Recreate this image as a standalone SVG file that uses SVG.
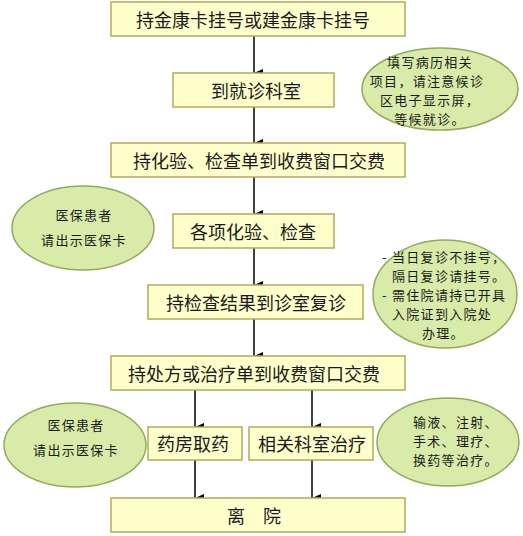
<svg xmlns="http://www.w3.org/2000/svg" width="523" height="536" viewBox="0 0 523 536">
<style>
.box{fill:#ffffcc;stroke:#b3aa5c;stroke-width:1.5}
.ell{fill:#d9eba8;stroke:#93a95c;stroke-width:1.5}
.bt{font-family:"Noto Sans CJK SC","Noto Sans CJK JP",sans-serif;font-size:18px;fill:#1a1a1a;text-anchor:middle}
.et{font-family:"Noto Sans CJK SC","Noto Sans CJK JP",sans-serif;font-size:13px;letter-spacing:1.3px;fill:#1a1a1a}
.m{text-anchor:middle}
.conn line{stroke:#000;stroke-width:1.5}
</style>
<defs>
<marker id="ah" markerWidth="8" markerHeight="9" refX="4" refY="9" orient="auto-start-reverse" markerUnits="userSpaceOnUse" viewBox="0 0 8 9">
<path d="M0,0 L8,0 L4,9 Z" fill="#000"/>
</marker>
</defs>
<rect width="523" height="536" fill="#fff"/>
<g class="conn">
<line x1="254" y1="36" x2="254" y2="73" marker-end="url(#ah)"/>
<line x1="254" y1="107" x2="254" y2="143" marker-end="url(#ah)"/>
<line x1="254" y1="177" x2="254" y2="214" marker-end="url(#ah)"/>
<line x1="254" y1="248" x2="254" y2="285" marker-end="url(#ah)"/>
<line x1="254" y1="319" x2="254" y2="356" marker-end="url(#ah)"/>
<line x1="195" y1="390" x2="195" y2="427" marker-end="url(#ah)"/>
<line x1="312" y1="390" x2="312" y2="427" marker-end="url(#ah)"/>
<line x1="195" y1="460" x2="195" y2="498" marker-end="url(#ah)"/>
<line x1="312" y1="460" x2="312" y2="498" marker-end="url(#ah)"/>
</g>
<g id="n1"><rect class="box" x="111" y="2" width="294" height="34"/><text class="bt" x="253" y="27">持金康卡挂号或建金康卡挂号</text></g>
<g id="n2"><rect class="box" x="173" y="73" width="161" height="34"/><text class="bt" x="256" y="98">到就诊科室</text></g>
<g id="n3"><rect class="box" x="111" y="143" width="294" height="34"/><text class="bt" x="259" y="168">持化验、检查单到收费窗口交费</text></g>
<g id="n4"><rect class="box" x="173" y="214" width="161" height="34"/><text class="bt" x="253" y="239">各项化验、检查</text></g>
<g id="n5"><rect class="box" x="148" y="285" width="215" height="34"/><text class="bt" x="256" y="310">持检查结果到诊室复诊</text></g>
<g id="n6"><rect class="box" x="111" y="356" width="294" height="34"/><text class="bt" x="254" y="381">持处方或治疗单到收费窗口交费</text></g>
<g id="n7"><rect class="box" x="148" y="427" width="94" height="33"/><text class="bt" x="193" y="451">药房取药</text></g>
<g id="n8"><rect class="box" x="249" y="427" width="124" height="33"/><text class="bt" x="312" y="451">相关科室治疗</text></g>
<g id="n9"><rect class="box" x="111" y="498" width="294" height="34"/><text class="bt" x="254" y="523">离　院</text></g>
<g id="e1"><ellipse class="ell" cx="440" cy="89" rx="78" ry="41"/>
<text class="et m"><tspan x="430" y="67">填写病历相关</tspan><tspan x="427" y="86">项目，请注意候诊</tspan><tspan x="430" y="105">区电子显示屏，</tspan><tspan x="430" y="124">等候就诊。</tspan></text></g>
<g id="e2"><ellipse class="ell" cx="83" cy="228" rx="71" ry="42"/>
<text class="et m"><tspan x="84" y="220">医保患者</tspan><tspan x="84" y="245">请出示医保卡</tspan></text></g>
<g id="e3"><ellipse class="ell" cx="445" cy="294" rx="72" ry="54"/>
<text class="et"><tspan x="382" y="262">- 当日复诊不挂号，</tspan><tspan x="392" y="281">隔日复诊请挂号。</tspan><tspan x="382" y="300">- 需住院请持已开具</tspan><tspan x="392" y="319">入院证到入院处</tspan><tspan x="422" y="338">办理。</tspan></text></g>
<g id="e4"><ellipse class="ell" cx="75" cy="445" rx="71" ry="42"/>
<text class="et m"><tspan x="76" y="430">医保患者</tspan><tspan x="76" y="455">请出示医保卡</tspan></text></g>
<g id="e5"><ellipse class="ell" cx="448" cy="442" rx="71" ry="44"/>
<text class="et"><tspan x="413" y="427">输液、注射、</tspan><tspan x="413" y="446">手术、理疗、</tspan><tspan x="413" y="465">换药等治疗。</tspan></text></g>
</svg>
